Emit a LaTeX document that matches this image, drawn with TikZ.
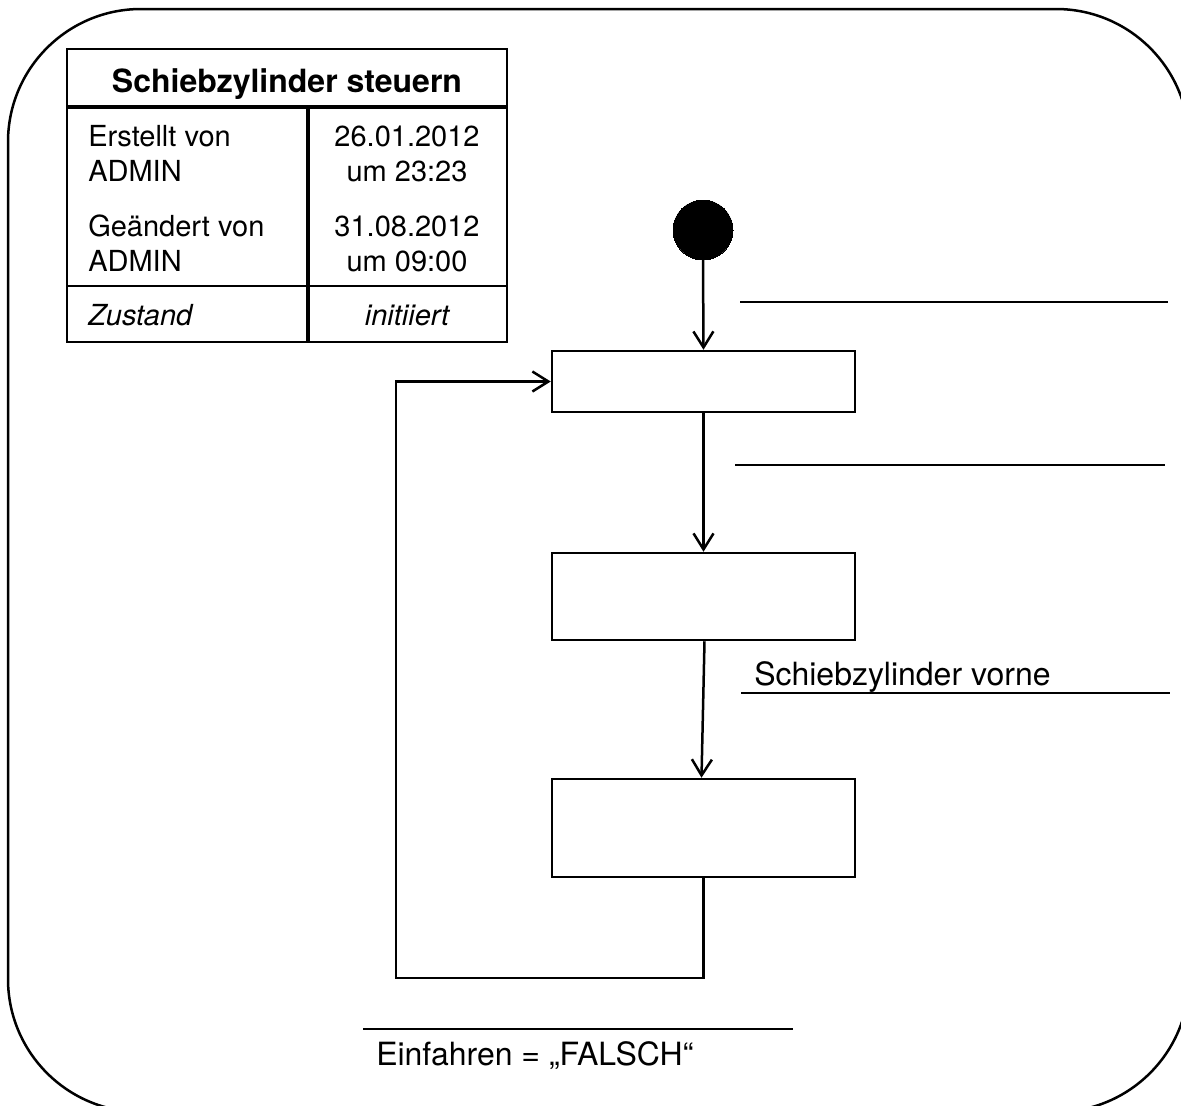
\documentclass[tikz,border=0pt]{standalone}
\usepackage{fontspec}
\setmainfont{TeX Gyre Heros}
\usetikzlibrary{arrows.meta}
\begin{document}
\begin{tikzpicture}[x=1pt,y=-1pt,line width=2.5pt,
  statebox/.style={draw, inner sep=0pt, minimum width=303pt},
  arr/.style={-{Straight Barb[length=16pt,width=20pt,line width=2.5pt]}},
  lbl/.style={anchor=base west, inner sep=0pt, font=\fontsize{32}{38}\selectfont},
  cellL/.style={anchor=base west, inner sep=0pt, font=\fontsize{29}{35}\selectfont},
  cellC/.style={anchor=base, inner sep=0pt, font=\fontsize{29}{35}\selectfont},
  thick line/.style={line width=4pt}]
\useasboundingbox (0,0) rectangle (1181,1106);
\clip (0,0) rectangle (1181,1106);
% outer frame
\draw[rounded corners=133pt] (8,9) rectangle (1189,1112);
% table
\draw (67,49) rectangle (507,342);
\draw[thick line] (67,107) -- (507,107);
\draw[thick line] (308,107) -- (308,342);
\draw (67,286) -- (507,286);
\node[anchor=base, inner sep=0pt, font=\fontsize{32}{38}\selectfont\bfseries] (title) at (287,92) {Schiebzylinder steuern};
\node[cellL] (t1) at (87,146) {Erstellt von};
\node[cellL] (t2) at (87,181) {ADMIN};
\node[cellL] (t3) at (87,236) {Geändert von};
\node[cellL] (t4) at (87,271) {ADMIN};
\node[cellL, font=\fontsize{29}{35}\selectfont\itshape] (t5) at (87,325) {Zustand};
\node[cellC] (d1) at (407,146) {26.01.2012};
\node[cellC] (d2) at (407,181) {um 23:23};
\node[cellC] (d3) at (407,236) {31.08.2012};
\node[cellC] (d4) at (407,271) {um 09:00};
\node[cellC, font=\fontsize{29}{35}\selectfont\itshape] (d5) at (407,325) {initiiert};
% states
\node[circle, fill=black, draw, line width=0pt, minimum size=60pt, inner sep=0pt] (start) at (703,230) {};
\node[statebox, minimum height=61pt] (box1) at (703.5,381.5) {};
\node[statebox, minimum height=87pt] (box2) at (703.5,596.5) {};
\node[statebox, minimum height=98pt] (box3) at (703.5,828) {};
\coordinate (loopBL) at (396,978);
\draw[arr] (start.south) -- (box1.north);
\draw[arr] (box1.south) -- (box2.north);
\draw[arr] ([xshift=1pt]box2.south) -- ([xshift=-2pt]box3.north);
\draw[arr] (box3.south) |- (loopBL) |- (box1.west);
% guard lines
\coordinate (g1a) at (740,302); \coordinate (g1b) at (1168,302);
\draw (g1a) -- (g1b);
\coordinate (g2a) at (735,465); \coordinate (g2b) at (1165,465);
\draw (g2a) -- (g2b);
\coordinate (g3a) at (741,693); \coordinate (g3b) at (1170,693);
\draw (g3a) -- (g3b);
\node[lbl] (lab3) at (753,685) {Schiebzylinder vorne};
\coordinate (g4a) at (363,1029); \coordinate (g4b) at (793,1029);
\draw (g4a) -- (g4b);
\node[lbl] (lab4) at (375,1065) {Einfahren = „FALSCH“};
\end{tikzpicture}
\end{document}
